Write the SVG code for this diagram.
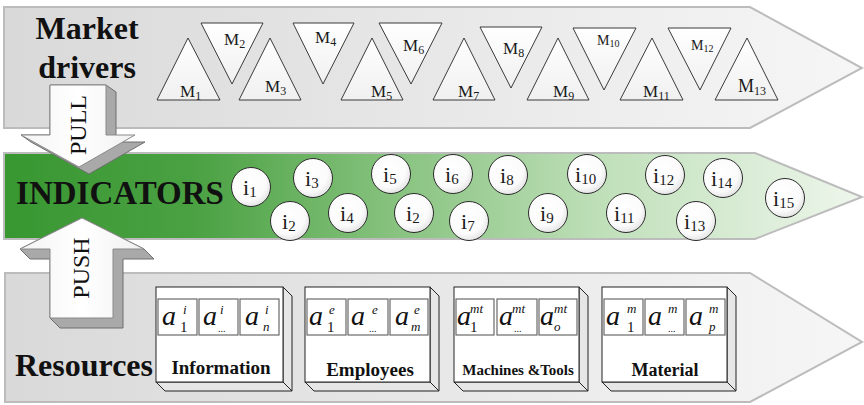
<svg xmlns="http://www.w3.org/2000/svg" width="864" height="405" viewBox="0 0 864 405">
  <defs>
    <linearGradient id="grayBand" x1="0" y1="0" x2="1" y2="0">
      <stop offset="0" stop-color="#d9d9d9"/>
      <stop offset="1" stop-color="#f6f6f6"/>
    </linearGradient>
    <linearGradient id="greenBand" x1="0" y1="0" x2="1" y2="0">
      <stop offset="0" stop-color="#389731"/>
      <stop offset="0.22" stop-color="#4aa142"/>
      <stop offset="0.45" stop-color="#86c27e"/>
      <stop offset="0.7" stop-color="#c0e0ba"/>
      <stop offset="1" stop-color="#eef6ec"/>
    </linearGradient>
    <radialGradient id="bubble" cx="0.42" cy="0.38" r="0.65">
      <stop offset="0" stop-color="#ffffff"/>
      <stop offset="0.7" stop-color="#fbfbfb"/>
      <stop offset="1" stop-color="#e2e2e2"/>
    </radialGradient>
    <linearGradient id="triFill" x1="0" y1="0" x2="0" y2="1">
      <stop offset="0" stop-color="#ffffff"/>
      <stop offset="1" stop-color="#f0f0f0"/>
    </linearGradient>
    <linearGradient id="arrowFace" x1="0" y1="0" x2="1" y2="0">
      <stop offset="0" stop-color="#f4f4f4"/>
      <stop offset="0.5" stop-color="#ffffff"/>
      <stop offset="1" stop-color="#f0f0f0"/>
    </linearGradient>
  </defs>
  <style>
    .band{stroke:#bcbcbc;stroke-width:2}
    .title{font-family:"Liberation Serif",serif;font-weight:bold;font-size:32px;fill:#111;text-anchor:middle}
    .tri{fill:url(#triFill);stroke:#3a3a3a;stroke-width:1}
    .m{font-family:"Liberation Serif",serif;font-size:17px;fill:#1a1a1a}
    .ms{font-size:12px}
    .bub{fill:url(#bubble);stroke:#2a2a2a;stroke-width:1}
    .il{font-family:"Liberation Serif",serif;font-size:22px;fill:#1a1a1a}
    .is{font-size:15px}
    .shade{fill:#a9a9a9;stroke:#6f6f6f;stroke-width:1}
    .front{fill:url(#arrowFace);stroke:#8a8a8a;stroke-width:1}
    .atext{font-family:"Liberation Serif",serif;font-size:24px;fill:#111;text-anchor:middle}
    .face{fill:#ffffff;stroke:#222;stroke-width:1}
    .side{fill:#e6e6e6;stroke:#222;stroke-width:1}
    .cell{fill:#ffffff;stroke:#6a6a6a;stroke-width:1.2}
    .av{font-family:"Liberation Serif",serif;font-style:italic;font-size:28px;fill:#111}
    .sup{font-family:"Liberation Serif",serif;font-style:italic;font-size:13px;fill:#111}
    .sub{font-family:"Liberation Serif",serif;font-size:15px;fill:#111}
    .subi{font-family:"Liberation Serif",serif;font-style:italic;font-size:13px;fill:#111}
    .dots{font-family:"Liberation Serif",serif;font-size:10px;fill:#111}
    .blabel{font-family:"Liberation Serif",serif;font-weight:bold;font-size:19px;fill:#111;text-anchor:middle}
  </style>

  <!-- Market drivers band -->
  <g id="market-drivers">
    <polygon class="band" fill="url(#grayBand)" points="4,7 750,7 862,68 750,128 4,128"/>
    <text class="title" x="87" y="39">Market</text>
    <text class="title" x="87" y="78">drivers</text>
  </g>

  <!-- Indicators band -->
  <g id="indicators">
    <polygon class="band" fill="url(#greenBand)" points="4,153 755,153 862,197 755,239 4,239"/>
    <text class="title" x="120" y="204" style="font-size:33px">INDICATORS</text>
  </g>

  <!-- Resources band -->
  <g id="resources">
    <polygon class="band" fill="url(#grayBand)" points="5,273 750,273 862,342 750,402 5,402"/>
    <text class="title" x="84" y="376">Resources</text>
  </g>

  <!-- Market driver triangles -->
  <g id="M1"><polygon class="tri" points="157,100 188,38 220,100"/><text class="m" x="180" y="97">M<tspan class="ms" dy="3">1</tspan></text></g>
  <g id="M2"><polygon class="tri" points="201,23 263,23 232,84"/><text class="m" x="224" y="45">M<tspan class="ms" dy="3">2</tspan></text></g>
  <g id="M3"><polygon class="tri" points="239,100 270,38 301,100"/><text class="m" x="265" y="92">M<tspan class="ms" dy="3">3</tspan></text></g>
  <g id="M4"><polygon class="tri" points="293,23 354,23 323,84"/><text class="m" x="315" y="43">M<tspan class="ms" dy="3">4</tspan></text></g>
  <g id="M5"><polygon class="tri" points="341,100 372,38 403,100"/><text class="m" x="371" y="97">M<tspan class="ms" dy="3">5</tspan></text></g>
  <g id="M6"><polygon class="tri" points="379,23 442,23 411,84"/><text class="m" x="403" y="51">M<tspan class="ms" dy="3">6</tspan></text></g>
  <g id="M7"><polygon class="tri" points="433,100 464,38 495,100"/><text class="m" x="458" y="97">M<tspan class="ms" dy="3">7</tspan></text></g>
  <g id="M8"><polygon class="tri" points="480,27 542,27 511,88"/><text class="m" x="503" y="54">M<tspan class="ms" dy="3">8</tspan></text></g>
  <g id="M9"><polygon class="tri" points="527,100 558,38 589,100"/><text class="m" x="553" y="97">M<tspan class="ms" dy="3">9</tspan></text></g>
  <g id="M10"><polygon class="tri" points="573,28 636,28 604,90"/><text class="m" x="597" y="45" style="font-size:14px">M<tspan style="font-size:10px" dy="2">10</tspan></text></g>
  <g id="M11"><polygon class="tri" points="620,100 652,38 683,100"/><text class="m" x="643" y="97">M<tspan class="ms" dy="3">11</tspan></text></g>
  <g id="M12"><polygon class="tri" points="668,28 731,28 700,90"/><text class="m" x="691" y="50" style="font-size:14px">M<tspan style="font-size:10px" dy="2">12</tspan></text></g>
  <g id="M13"><polygon class="tri" points="715,100 747,38 778,100"/><text class="m" x="738" y="92" style="font-size:18px">M<tspan class="ms" dy="3">13</tspan></text></g>

  <!-- Indicator bubbles -->
  <g id="i1"><circle class="bub" cx="251" cy="187" r="19.5"/><text class="il" x="243" y="195">i<tspan class="is" dy="2">1</tspan></text></g>
  <g id="i2a"><circle class="bub" cx="290" cy="221" r="19.5"/><text class="il" x="282" y="229">i<tspan class="is" dy="2">2</tspan></text></g>
  <g id="i3"><circle class="bub" cx="313" cy="178" r="19.5"/><text class="il" x="305" y="186">i<tspan class="is" dy="2">3</tspan></text></g>
  <g id="i4"><circle class="bub" cx="348" cy="213" r="19.5"/><text class="il" x="340" y="221">i<tspan class="is" dy="2">4</tspan></text></g>
  <g id="i5"><circle class="bub" cx="391" cy="174" r="19.5"/><text class="il" x="383" y="182">i<tspan class="is" dy="2">5</tspan></text></g>
  <g id="i2b"><circle class="bub" cx="414" cy="213" r="19.5"/><text class="il" x="406" y="221">i<tspan class="is" dy="2">2</tspan></text></g>
  <g id="i6"><circle class="bub" cx="453" cy="174" r="19.5"/><text class="il" x="445" y="182">i<tspan class="is" dy="2">6</tspan></text></g>
  <g id="i7"><circle class="bub" cx="469" cy="221" r="19.5"/><text class="il" x="461" y="229">i<tspan class="is" dy="2">7</tspan></text></g>
  <g id="i8"><circle class="bub" cx="508" cy="175" r="19.5"/><text class="il" x="500" y="183">i<tspan class="is" dy="2">8</tspan></text></g>
  <g id="i9"><circle class="bub" cx="548" cy="213" r="19.5"/><text class="il" x="540" y="221">i<tspan class="is" dy="2">9</tspan></text></g>
  <g id="i10"><circle class="bub" cx="587" cy="174" r="19.5"/><text class="il" x="575" y="182">i<tspan class="is" dy="2">10</tspan></text></g>
  <g id="i11"><circle class="bub" cx="626" cy="213" r="19.5"/><text class="il" x="614" y="221">i<tspan class="is" dy="2">11</tspan></text></g>
  <g id="i12"><circle class="bub" cx="665" cy="175" r="19.5"/><text class="il" x="653" y="183">i<tspan class="is" dy="2">12</tspan></text></g>
  <g id="i13"><circle class="bub" cx="696" cy="221" r="19.5"/><text class="il" x="684" y="229">i<tspan class="is" dy="2">13</tspan></text></g>
  <g id="i14"><circle class="bub" cx="723" cy="178" r="19.5"/><text class="il" x="711" y="186">i<tspan class="is" dy="2">14</tspan></text></g>
  <g id="i15"><circle class="bub" cx="785" cy="198" r="19.5"/><text class="il" x="773" y="206">i<tspan class="is" dy="2">15</tspan></text></g>

  <!-- Resource boxes: front face, right side, bottom side, three attribute cells -->
  <g id="information">
    <polygon class="side" points="283,287 292,296 292,391 283,382"/>
    <polygon class="side" points="156,382 165,391 292,391 283,382"/>
    <rect class="face" x="156" y="287" width="127" height="95"/>
    <rect class="cell" x="158" y="299" width="39" height="36"/>
    <rect class="cell" x="199" y="299" width="39" height="36"/>
    <rect class="cell" x="240" y="299" width="39" height="36"/>
    <text class="av" x="162" y="325">a</text><text class="sup" x="183" y="314">i</text><text class="sub" x="180" y="332">1</text>
    <text class="av" x="203" y="325">a</text><text class="sup" x="220" y="314">i</text><text class="dots" x="218" y="332">...</text>
    <text class="av" x="245" y="325">a</text><text class="sup" x="265" y="314">i</text><text class="subi" x="263" y="331">n</text>
    <text class="blabel" x="221" y="374">Information</text>
  </g>

  <g id="employees">
    <polygon class="side" points="430,287 439,296 439,391 430,382"/>
    <polygon class="side" points="305,382 314,391 439,391 430,382"/>
    <rect class="face" x="305" y="287" width="125" height="95"/>
    <rect class="cell" x="307" y="299" width="39" height="36"/>
    <rect class="cell" x="348" y="299" width="40" height="36"/>
    <rect class="cell" x="390" y="299" width="38" height="36"/>
    <text class="av" x="309" y="325">a</text><text class="sup" x="329" y="314">e</text><text class="sub" x="327" y="332">1</text>
    <text class="av" x="351" y="325">a</text><text class="sup" x="372" y="314">e</text><text class="dots" x="369" y="332">...</text>
    <text class="av" x="395" y="325">a</text><text class="sup" x="414" y="314">e</text><text class="subi" x="411" y="331">m</text>
    <text class="blabel" x="370" y="376">Employees</text>
  </g>

  <g id="machines-tools">
    <polygon class="side" points="579,287 588,296 588,391 579,382"/>
    <polygon class="side" points="454,382 463,391 588,391 579,382"/>
    <rect class="face" x="454" y="287" width="125" height="95"/>
    <rect class="cell" x="456" y="299" width="38" height="36"/>
    <rect class="cell" x="497" y="299" width="40" height="36"/>
    <rect class="cell" x="539" y="299" width="38" height="36"/>
    <text class="av" x="457" y="325">a</text><text class="sup" x="470" y="313">mt</text><text class="sub" x="470" y="332">1</text>
    <text class="av" x="499" y="325">a</text><text class="sup" x="512" y="313">mt</text><text class="dots" x="514" y="332">...</text>
    <text class="av" x="540" y="325">a</text><text class="sup" x="554" y="313">mt</text><text class="subi" x="554" y="331">o</text>
    <text class="blabel" x="518" y="375" style="font-size:15px">Machines &amp;Tools</text>
  </g>

  <g id="material">
    <polygon class="side" points="727,287 736,296 736,391 727,382"/>
    <polygon class="side" points="602,382 611,391 736,391 727,382"/>
    <rect class="face" x="602" y="287" width="125" height="95"/>
    <rect class="cell" x="604" y="299" width="39" height="36"/>
    <rect class="cell" x="645" y="299" width="39" height="36"/>
    <rect class="cell" x="686" y="299" width="39" height="36"/>
    <text class="av" x="606" y="325">a</text><text class="sup" x="627" y="313">m</text><text class="sub" x="627" y="332">1</text>
    <text class="av" x="648" y="325">a</text><text class="sup" x="668" y="313">m</text><text class="dots" x="668" y="332">...</text>
    <text class="av" x="689" y="325">a</text><text class="sup" x="709" y="313">m</text><text class="subi" x="709" y="331">p</text>
    <text class="blabel" x="665" y="376" style="font-size:18px">Material</text>
  </g>

  <!-- Block arrows linking the bands -->
  <g id="connectors">
    <g id="pull">
      <polygon class="shade" points="50,85 106,85 116,92 116,142 145,142 89,174 31,142 21,135 50,135"/>
      <polygon class="front" points="50,85 106,85 106,135 135,135 79,167 21,135 50,135"/>
      <text class="atext" transform="translate(86,125) rotate(-90)">PULL</text>
    </g>
    <g id="push">
      <polygon class="shade" points="82,218 144,249 154,259 123,259 123,328 60,328 50,318 50,259 30,259 20,249"/>
      <polygon class="front" points="82,218 144,249 113,249 113,318 50,318 50,249 20,249"/>
      <text class="atext" transform="translate(89,268) rotate(-90)">PUSH</text>
    </g>
  </g>
</svg>
